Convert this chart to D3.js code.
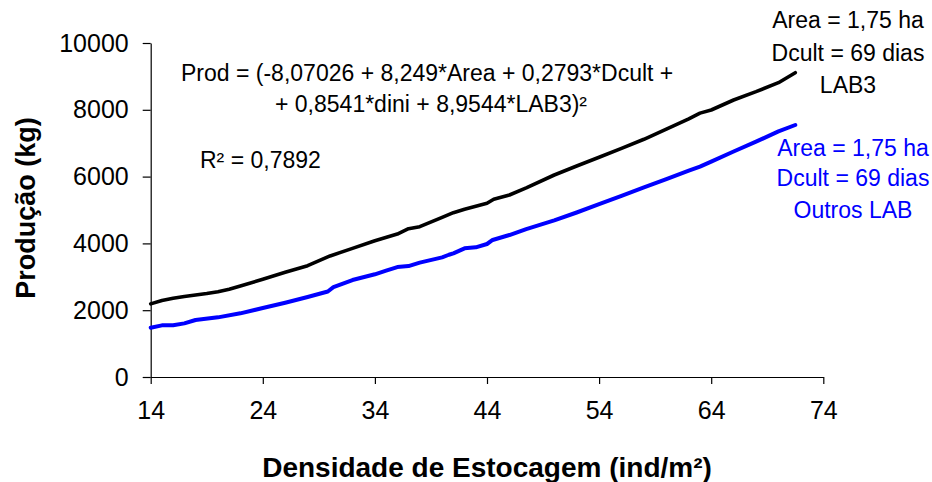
<!DOCTYPE html>
<html>
<head>
<meta charset="utf-8">
<script src="https://cdn.jsdelivr.net/npm/d3@7"></script>
<style>
    body { margin: 0; background: #fff; }
    svg { display: block; font-family: Arial, "Liberation Sans", sans-serif; }
</style>
</head>
<body>
<script>
'use strict';

// densidade (ind/m2) e producao (kg)
const densLab3 = [14, 15, 16, 17, 18, 19, 20, 21, 22, 24, 26, 28, 30, 32, 34, 36, 37, 38, 40, 41, 42, 44, 44.6, 46, 47.5, 50, 52, 54, 56, 58, 60, 62, 63, 64, 66, 68, 70, 71.5]
const prodLab3 = [2190, 2290, 2356, 2410, 2455, 2500, 2555, 2630, 2725, 2925, 3135, 3333, 3625, 3852, 4081, 4281, 4440, 4500, 4781, 4920, 5020, 5200, 5320, 5449, 5660, 6048, 6317, 6578, 6847, 7117, 7420, 7730, 7900, 7994, 8293, 8543, 8812, 9111]

const densOutros = [14, 15, 16, 17, 18, 20, 22, 24, 26, 28, 29.8, 30.3, 32, 34, 35, 36, 37, 38, 40, 40.6, 41, 42, 43, 44, 44.5, 46, 47.5, 50, 52, 54, 56, 58, 60, 62, 63, 64, 66, 68, 70, 71.5]
const prodOutros = [1476, 1546, 1550, 1606, 1707, 1786, 1906, 2066, 2225, 2395, 2560, 2690, 2904, 3075, 3184, 3290, 3320, 3423, 3583, 3660, 3703, 3852, 3882, 3982, 4102, 4251, 4430, 4691, 4925, 5174, 5426, 5674, 5928, 6176, 6297, 6449, 6751, 7046, 7353, 7545]

const ticksX = [14, 24, 34, 44, 54, 64, 74]
const ticksY = [0, 2000, 4000, 6000, 8000, 10000]

const textoEquacao = [
    'Prod = (-8,07026 + 8,249*Area + 0,2793*Dcult +',
    '+ 0,8541*dini + 8,9544*LAB3)²'
]
const textoR2 = 'R² = 0,7892'
const textoLab3 = ['Area = 1,75 ha', 'Dcult = 69 dias', 'LAB3']
const textoOutros = ['Area = 1,75 ha', 'Dcult = 69 dias', 'Outros LAB']

const largura = 932
const altura = 482

const svg = d3.select('body').append('svg')
    .attr('width', largura)
    .attr('height', altura)

const escalaX = d3.scaleLinear().domain([14, 74]).range([150.7, 823.3])
const escalaY = d3.scaleLinear().domain([0, 10000]).range([377, 43])

// eixos
const eixoX = d3.axisBottom(escalaX).tickValues(ticksX).tickSize(7).tickSizeOuter(0).tickPadding(17)
const eixoY = d3.axisLeft(escalaY).tickValues(ticksY).tickSize(8).tickSizeOuter(0).tickPadding(14)
    .tickFormat(d3.format('d'))

const gX = svg.append('g')
    .attr('transform', `translate(0, ${escalaY(0)})`)
    .call(eixoX)
const gY = svg.append('g')
    .attr('transform', `translate(${escalaX(14)}, 0)`)
    .call(eixoY)

for (let g of [gX, gY]) {
    g.select('.domain').attr('stroke', '#000').attr('stroke-width', 1.2)
    g.selectAll('.tick line').attr('stroke', '#000').attr('stroke-width', 1.2)
    g.selectAll('.tick text')
        .attr('fill', '#000')
        .style('font-size', '25px')
        .style('font-family', 'Arial, "Liberation Sans", sans-serif')
}

// titulos dos eixos
svg.append('text')
    .attr('x', 487)
    .attr('y', 477)
    .attr('text-anchor', 'middle')
    .style('font-size', '28px')
    .style('font-weight', 'bold')
    .text('Densidade de Estocagem (ind/m²)')

svg.append('text')
    .attr('transform', 'translate(35, 208) rotate(-90)')
    .attr('text-anchor', 'middle')
    .style('font-size', '27px')
    .style('font-weight', 'bold')
    .text('Produção (kg)')

// linhas
const linha = d3.line()
    .x(d => escalaX(d[0]))
    .y(d => escalaY(d[1]))

const series = [
    {x: densLab3, y: prodLab3, cor: '#000000', largura: 3.6},
    {x: densOutros, y: prodOutros, cor: '#0000ff', largura: 4}
]
for (let s of series) {
    svg.append('path')
        .datum(d3.zip(s.x, s.y))
        .attr('fill', 'none')
        .attr('stroke', s.cor)
        .attr('stroke-width', s.largura)
        .attr('stroke-linejoin', 'round')
        .attr('stroke-linecap', 'round')
        .attr('d', linha)
}

// textos
svg.append('text').attr('x', 181).attr('y', 81)
    .style('font-size', '23px').text(textoEquacao[0])
svg.append('text').attr('x', 275).attr('y', 112)
    .style('font-size', '23px').text(textoEquacao[1])
svg.append('text').attr('x', 200).attr('y', 168)
    .style('font-size', '23px').text(textoR2)

const basesLab3 = [28, 61, 93]
textoLab3.forEach((t, i) => {
    svg.append('text').attr('x', 848).attr('y', basesLab3[i])
        .attr('text-anchor', 'middle')
        .attr('fill', '#000')
        .style('font-size', '23px').text(t)
})

const basesOutros = [156, 186, 218]
textoOutros.forEach((t, i) => {
    svg.append('text').attr('x', 853).attr('y', basesOutros[i])
        .attr('text-anchor', 'middle')
        .attr('fill', '#0000ff')
        .style('font-size', '23px').text(t)
})
</script>
</body>
</html>
